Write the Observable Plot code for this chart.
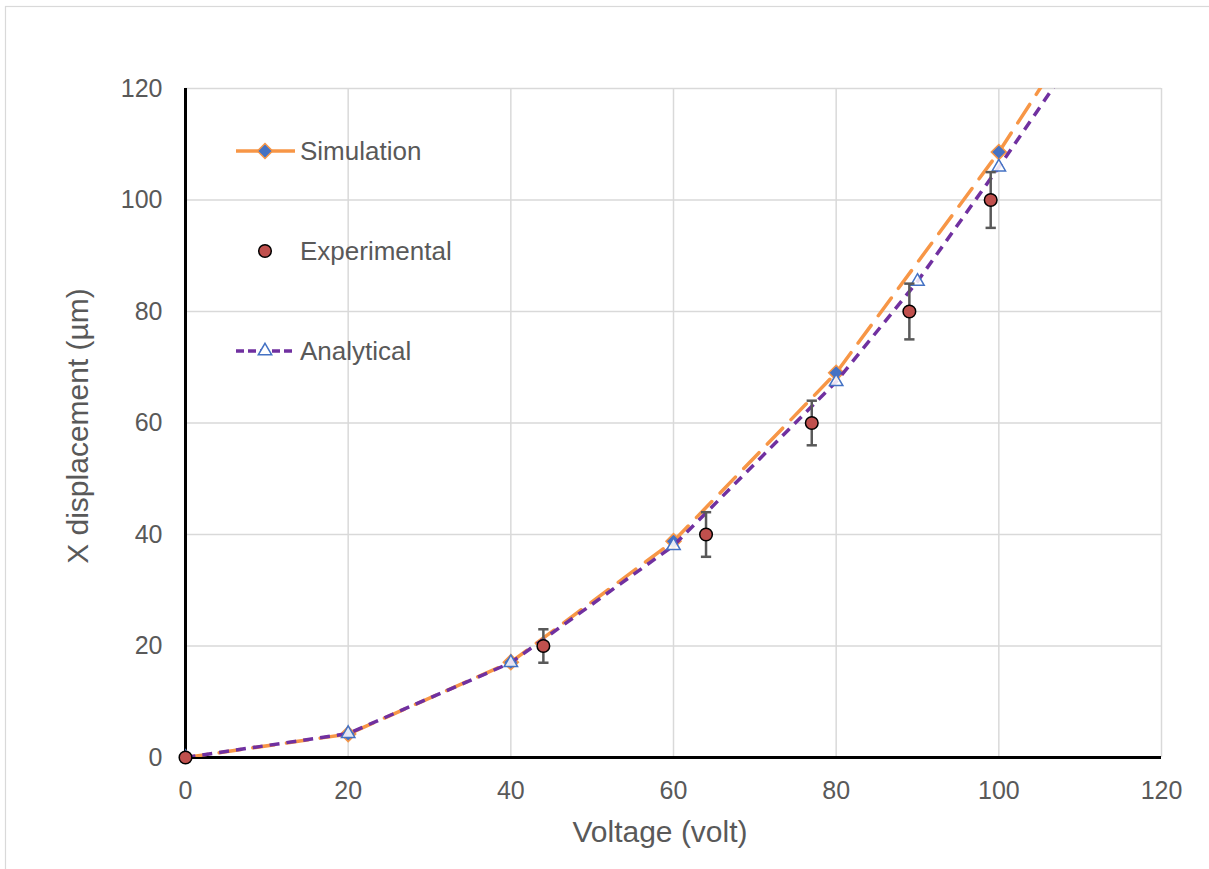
<!DOCTYPE html>
<html>
<head>
<meta charset="utf-8">
<script src="https://cdn.jsdelivr.net/npm/d3@7"></script>
<script src="https://cdn.jsdelivr.net/npm/@observablehq/plot@0.6"></script>
<style>
  html, body { margin: 0; padding: 0; background: white; }
  #chart { position: relative; width: 1209px; height: 869px; }
</style>
</head>
<body>
<div id="chart"></div>
<script>
// ---- data ----
const simVoltage = [0, 20, 40, 60, 80, 100, 110];
const simDisp    = [0, 4.2, 17.1, 38.8, 69.0, 108.6, 131.1];

const anaVoltage = [0, 20, 40, 60, 80, 90, 100, 110];
const anaDisp    = [0, 4.3, 17.0, 38.0, 67.4, 85.4, 105.9, 127.2];

const expVoltage = [0, 44, 64, 77, 89, 99];
const expDisp    = [0, 20, 40, 60, 80, 100];
const expErr     = [0, 3, 4, 4, 5, 5];

const xTicks = [0, 20, 40, 60, 80, 100, 120];
const yTicks = [0, 20, 40, 60, 80, 100, 120];

const seriesNames = ["Simulation", "Experimental", "Analytical"];
const xTitle = "Voltage (volt)";
const yTitle = "X displacement (µm)";

// ---- tables ----
const sim = simVoltage.map((v, i) => ({x: v, y: simDisp[i]}));
const ana = anaVoltage.map((v, i) => ({x: v, y: anaDisp[i]}));
const exp = expVoltage.map((v, i) => ({x: v, y: expDisp[i], lo: expDisp[i] - expErr[i], hi: expDisp[i] + expErr[i]}));
const expBars = exp.filter(d => d.hi > d.lo);

const C = {
  sim: "#F79646", simFill: "#4472C4",
  ana: "#7030A0", anaMark: "#4472C4",
  exp: "#C0504D", err: "#595959",
  grid: "#d9d9d9", text: "#595959"
};
const R = {sim: 6.8, ana: 6.4, exp: 6.3};
const capSymbol = {draw(ctx, size) { const w = Math.sqrt(size); ctx.moveTo(-w, 0); ctx.lineTo(w, 0); }};

const plot = Plot.plot({
  width: 1209, height: 869,
  marginLeft: 185, marginRight: 48, marginTop: 88, marginBottom: 112,
  x: {domain: [0, 120]},
  y: {domain: [0, 120]},
  style: {fontFamily: "'Liberation Sans', Arial, sans-serif", background: "white", overflow: "visible"},
  marks: [
    Plot.gridX(xTicks.filter(t => t > 0), {stroke: C.grid, strokeOpacity: 1, strokeWidth: 1.5}),
    Plot.gridY(yTicks.filter(t => t > 0), {stroke: C.grid, strokeOpacity: 1, strokeWidth: 1.5}),
    Plot.axisX(xTicks, {tickSize: 0, tickPadding: 24, fontSize: 25, color: C.text, label: null}),
    Plot.axisY(yTicks, {tickSize: 0, tickPadding: 23, fontSize: 25, color: C.text, label: null}),
    Plot.ruleX([0], {stroke: "black", strokeWidth: 3}),
    Plot.ruleY([0], {stroke: "black", strokeWidth: 3}),
    // Simulation
    Plot.line(sim, {x: "x", y: "y", stroke: C.sim, strokeWidth: 3.5, strokeDasharray: "22,12", strokeLinecap: "round", clip: true}),
    Plot.dot(sim, {x: "x", y: "y", symbol: "diamond2", r: R.sim, fill: C.simFill, stroke: C.sim, strokeWidth: 1.5, clip: true}),
    // Analytical
    Plot.line(ana, {x: "x", y: "y", stroke: C.ana, strokeWidth: 3.5, strokeDasharray: "10,7", strokeLinecap: "butt", clip: true}),
    Plot.dot(ana, {x: "x", y: "y", symbol: "triangle2", r: R.ana, fill: "white", fillOpacity: 0.85, stroke: C.anaMark, strokeWidth: 1.5, clip: true}),
    // Experimental with error bars
    Plot.ruleX(expBars, {x: "x", y1: "lo", y2: "hi", stroke: C.err, strokeWidth: 2.5}),
    Plot.dot(expBars, {x: "x", y: "lo", symbol: capSymbol, r: 2.9, stroke: C.err, strokeWidth: 2.5}),
    Plot.dot(expBars, {x: "x", y: "hi", symbol: capSymbol, r: 2.9, stroke: C.err, strokeWidth: 2.5}),
    Plot.dot(exp, {x: "x", y: "y", r: R.exp, fill: C.exp, stroke: "black", strokeWidth: 1.5})
  ]
});

document.getElementById("chart").appendChild(plot);

// ---- decorations: border, titles, legend ----
const svg = d3.select(plot);
svg.insert("rect", ":first-child")
  .attr("x", 5.5).attr("y", 6.5).attr("width", 1300).attr("height", 1000)
  .attr("fill", "white").attr("stroke", C.grid).attr("stroke-width", 1.2);

const font = "'Liberation Sans', Arial, sans-serif";
svg.append("text").text(xTitle)
  .attr("x", 660).attr("y", 842).attr("text-anchor", "middle")
  .attr("font-family", font).attr("font-size", 30).attr("fill", C.text);
svg.append("text").text(yTitle)
  .attr("transform", "translate(88,426) rotate(-90)").attr("text-anchor", "middle")
  .attr("font-family", font).attr("font-size", 30).attr("fill", C.text);

const sym = (type, r) => d3.symbol(type, r * r * Math.PI)();
const legend = svg.append("g").attr("font-family", font).attr("font-size", 26)
  .attr("fill", C.text).attr("text-anchor", "start");
const ly = [151, 251, 351];
const lx0 = 236, lx1 = 295, lm = 265, lt = 300;
// Simulation
legend.append("line").attr("x1", lx0).attr("x2", lx1).attr("y1", ly[0]).attr("y2", ly[0])
  .attr("stroke", C.sim).attr("stroke-width", 3.5);
legend.append("path").attr("d", sym(d3.symbolDiamond2, R.sim)).attr("transform", `translate(${lm},${ly[0]})`)
  .attr("fill", C.simFill).attr("stroke", C.sim).attr("stroke-width", 1.5);
// Experimental
legend.append("circle").attr("cx", lm).attr("cy", ly[1]).attr("r", R.exp)
  .attr("fill", C.exp).attr("stroke", "black").attr("stroke-width", 1.5);
// Analytical
legend.append("line").attr("x1", lx0).attr("x2", lx1).attr("y1", ly[2]).attr("y2", ly[2])
  .attr("stroke", C.ana).attr("stroke-width", 3.5).attr("stroke-dasharray", "8,4");
legend.append("path").attr("d", sym(d3.symbolTriangle2, R.ana)).attr("transform", `translate(${lm},${ly[2]})`)
  .attr("fill", "white").attr("stroke", C.anaMark).attr("stroke-width", 1.5);
seriesNames.forEach((n, i) => {
  legend.append("text").text(n).attr("x", lt).attr("y", ly[i] + 9).attr("text-anchor", "start");
});
</script>
</body>
</html>
